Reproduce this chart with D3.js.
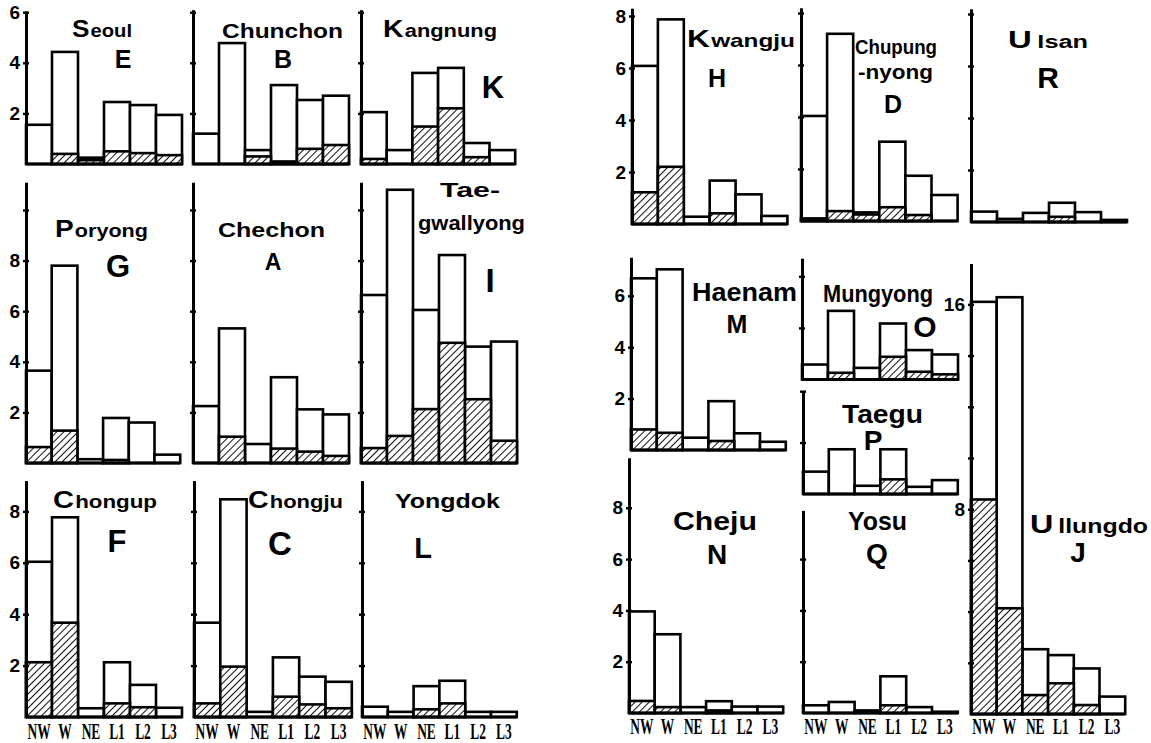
<!DOCTYPE html>
<html><head><meta charset="utf-8">
<script src="https://cdn.jsdelivr.net/npm/d3@7"></script>
<style>body{margin:0;background:#fff} svg{display:block;background:#fff}</style>
</head><body>
<svg id="chart" width="1151" height="743"></svg>
<script>
// ---------- DATA ----------
const categories = ["NW", "W", "NE", "L1", "L2", "L3"];
const stationNames = [["Seoul"], ["Chunchon"], ["Kangnung"], ["Poryong"], ["Chechon"], ["Tae-", "gwallyong"],
  ["Chongup"], ["Chongju"], ["Yongdok"], ["Kwangju"], ["Chupung", "-nyong"], ["Ulsan"],
  ["Haenam"], ["Mungyong"], ["Taegu"], ["Cheju"], ["Yosu"], ["Ullungdo"]];
const stationCodes = ["E", "B", "K", "G", "A", "I", "F", "C", "L", "H", "D", "R", "M", "O", "P", "N", "Q", "J"];
// total frequency (white bar) per category
const totals = [
  [1.55, 4.43, 0.25, 2.45, 2.33, 1.94],   // Seoul
  [1.2, 4.78, 0.55, 3.12, 2.53, 2.7],     // Chunchon
  [2.05, 0.55, 3.6, 3.8, 0.83, 0.55],     // Kangnung
  [3.65, 7.8, 0.15, 1.78, 1.6, 0.33],     // Poryong
  [2.25, 5.32, 0.75, 3.39, 2.12, 1.92],   // Chechon
  [6.64, 10.8, 6.05, 8.22, 4.6, 4.8],     // Taegwallyong
  [6.04, 7.77, 0.34, 2.13, 1.25, 0.36],   // Chongup
  [3.67, 8.47, 0.2, 2.32, 1.57, 1.37],    // Chongju
  [0.4, 0.2, 1.2, 1.41, 0.2, 0.2],        // Yongdok
  [6.08, 7.87, 0.28, 1.67, 1.14, 0.31],   // Kwangju
  [4.04, 7.2, 0.33, 3.05, 1.74, 1.0],     // Chupungnyong
  [0.4, 0.12, 0.35, 0.74, 0.38, 0.08],    // Ulsan
  [6.68, 7.03, 0.48, 1.9, 0.65, 0.32],    // Haenam
  [0.58, 2.66, 0.45, 2.17, 1.14, 0.97],   // Mungyong
  [0.87, 1.74, 0.32, 1.74, 0.28, 0.54],   // Taegu
  [3.96, 3.07, 0.23, 0.46, 0.25, 0.25],   // Cheju
  [0.3, 0.43, 0.1, 1.43, 0.23, 0.05],     // Yosu
  [16.1, 16.28, 2.53, 2.3, 1.78, 0.68]    // Ullungdo
];
// hatched part per category
const hatched = [
  [0, 0.4, 0.15, 0.5, 0.43, 0.35],
  [0, 0, 0.3, 0.1, 0.6, 0.75],
  [0.2, 0, 1.48, 2.2, 0.27, 0],
  [0.63, 1.28, 0, 0.12, 0, 0],
  [0, 1.04, 0, 0.57, 0.45, 0.28],
  [0.59, 1.07, 2.13, 4.75, 2.52, 0.88],
  [2.13, 3.67, 0, 0.53, 0.38, 0],
  [0.53, 1.96, 0, 0.79, 0.49, 0.34],
  [0, 0, 0.3, 0.53, 0, 0],
  [1.22, 2.2, 0, 0.41, 0, 0],
  [0.1, 0.38, 0.25, 0.53, 0.23, 0],
  [0, 0, 0, 0.2, 0, 0],
  [0.8, 0.67, 0, 0.35, 0, 0],
  [0, 0.26, 0, 0.88, 0.3, 0.2],
  [0, 0, 0, 0.57, 0, 0],
  [0.47, 0.23, 0, 0.1, 0, 0],
  [0, 0, 0, 0.3, 0, 0],
  [8.38, 4.13, 0.74, 1.2, 0.35, 0]
];
const axisTicks = [
  [2, 4, 6], [2, 4, 6], [2, 4, 6],
  [2, 4, 6, 8, 10], [2, 4, 6, 8, 10], [2, 4, 6, 8, 10],
  [2, 4, 6, 8], [2, 4, 6, 8], [2, 4, 6, 8],
  [2, 4, 6, 8], [2, 4, 6, 8], [2, 4, 6, 8],
  [2, 4, 6], [2, 4], [2, 4],
  [2, 4, 6, 8], [2, 4, 6], [2, 4, 6, 8, 10, 12, 14, 16]
];
const tickLabels = [
  ["2", "4", "6"], [], [],
  ["2", "4", "6", "8"], [], [],
  ["2", "4", "6", "8"], [], [],
  ["2", "4", "6", "8"], [], [],
  ["2", "4", "6"], [], [],
  ["2", "4", "6", "8"], [], ["8", "16"]
];

// ---------- LAYOUT (positions only) ----------
const layout = [
  {ax: 26, base: 164, ppu: 25.3, bw: 26, ymax: 6.05},
  {ax: 193, base: 164, ppu: 25.3, bw: 26, ymax: 6.1},
  {ax: 361, base: 164, ppu: 25.3, bw: 25.7, ymax: 6.1},
  {ax: 26, base: 463, ppu: 25.3, bw: 25.7, ymax: 11.1},
  {ax: 193, base: 463, ppu: 25.3, bw: 26, ymax: 11.1},
  {ax: 361, base: 463, ppu: 25.3, bw: 26, ymax: 11.1},
  {ax: 26, base: 717, ppu: 25.7, bw: 26, ymax: 9.2, xl: 739},
  {ax: 194, base: 717, ppu: 25.7, bw: 26.3, ymax: 9.2, xl: 739},
  {ax: 362, base: 717, ppu: 25.7, bw: 25.8, ymax: 9.2, xl: 739},
  {ax: 632, base: 224, ppu: 26, bw: 25.9, ymax: 8.3},
  {ax: 801, base: 221, ppu: 26, bw: 26.1, ymax: 8.2},
  {ax: 971, base: 222, ppu: 26, bw: 26, ymax: 8.2},
  {ax: 631, base: 450, ppu: 25.7, bw: 25.8, ymax: 7.5},
  {ax: 802, base: 379.5, ppu: 25.8, bw: 26, ymax: 4.7},
  {ax: 803, base: 494, ppu: 25.7, bw: 25.8, ymax: 4.0},
  {ax: 629, base: 713, ppu: 25.65, bw: 25.7, ymax: 9.95, xl: 734},
  {ax: 803, base: 713, ppu: 25.65, bw: 25.8, ymax: 7.9, xl: 734},
  {ax: 971, base: 714, ppu: 25.6, bw: 25.7, ymax: 17.6, xl: 734}
];
// name lines: [x, baseline, size, width, bigFirst]
const nameLayout = [
  [[72, 37, 19, 60, 1]],
  [[222, 38, 21, 121, 0]],
  [[383, 37, 18, 114, 1]],
  [[55, 237, 19, 93, 1]],
  [[218, 237, 21, 107, 0]],
  [[440, 197, 20, 60, 0], [418, 230, 20, 107, 0]],
  [[53, 508, 19, 104, 1]],
  [[248, 508, 19, 95, 1]],
  [[395, 508, 21, 105, 0]],
  [[687, 47, 19, 108, 1]],
  [[855, 54, 20, 82, 0], [858, 79, 20, 75, 0]],
  [[1008, 48, 18, 80, 1]],
  [[692, 301, 25, 105, 0]],
  [[823, 302, 24, 110, 0]],
  [[842, 423, 25, 81, 0]],
  [[673, 530, 25, 84, 0]],
  [[848, 530, 25, 59, 0]],
  [[1030, 533, 20, 118, 1]]
];
// code letter: [centre x, baseline, size]
const codeLayout = [
  [123, 68, 25], [283, 68, 25], [493, 98, 31], [118, 277, 31], [273, 270, 23], [490, 292, 33],
  [117, 552, 31], [280, 555, 33], [423, 558, 29], [717, 87, 25], [893, 113, 25], [1048, 88, 30],
  [737, 333, 25], [925, 337, 30], [873, 450, 28], [717, 564, 28], [877, 563, 28], [1078, 562, 28]
];

// ---------- DRAW ----------
const svg = d3.select("#chart");
svg.append("rect").attr("width", 1151).attr("height", 743).attr("fill", "#fff");
const defs = svg.append("defs");
const pat = defs.append("pattern").attr("id", "hatch").attr("patternUnits", "userSpaceOnUse")
  .attr("width", 5).attr("height", 5).attr("patternTransform", "rotate(45)");
pat.append("rect").attr("width", 5).attr("height", 5).attr("fill", "#fff");
pat.append("line").attr("x1", 0).attr("y1", 0).attr("x2", 0).attr("y2", 5)
  .attr("stroke", "#000").attr("stroke-width", 1.9);

const SANS = "'Liberation Sans', Arial, Helvetica, sans-serif";
const SERIF = "'Liberation Serif', 'Times New Roman', serif";

layout.forEach((L, i) => {
  const g = svg.append("g");
  const top = L.base - L.ymax * L.ppu;
  const y = d3.scaleLinear().domain([0, L.ymax]).range([L.base, top]);
  const x = d3.scaleBand().domain(categories).range([L.ax, L.ax + 6 * L.bw]).padding(0);

  // totals
  g.selectAll("rect.tot").data(categories).join("rect")
    .attr("x", c => x(c)).attr("width", x.bandwidth())
    .attr("y", (c, k) => y(totals[i][k]))
    .attr("height", (c, k) => L.base - y(totals[i][k]))
    .attr("fill", "#fff").attr("stroke", "#000").attr("stroke-width", 2.6);
  // hatched
  g.selectAll("rect.hat").data(categories.filter((c, k) => hatched[i][k] > 0)).join("rect")
    .attr("x", c => x(c)).attr("width", x.bandwidth())
    .attr("y", c => y(hatched[i][categories.indexOf(c)]))
    .attr("height", c => L.base - y(hatched[i][categories.indexOf(c)]))
    .attr("fill", "url(#hatch)").attr("stroke", "#000").attr("stroke-width", 2.6);

  // baseline
  g.append("line").attr("x1", L.ax).attr("x2", L.ax + 6 * L.bw)
    .attr("y1", L.base).attr("y2", L.base).attr("stroke", "#000").attr("stroke-width", 3);

  // y axis
  const labs = tickLabels[i];
  const ticks = axisTicks[i];
  const ax = d3.axisLeft(y).tickValues(ticks).tickSizeOuter(0).tickSizeInner(3).tickPadding(3)
    .tickFormat(v => labs.includes(String(v)) ? String(v) : "");
  const ag = g.append("g").attr("transform", `translate(${L.ax},0)`).call(ax);
  ag.attr("font-size", 19).attr("font-family", SANS);
  ag.select(".domain").attr("stroke", "#000").attr("stroke-width", 3);
  ag.selectAll(".tick line").attr("x1", -3).attr("x2", 3).attr("stroke-width", 2.4);
  ag.selectAll(".tick text").attr("font-family", SANS).attr("font-weight", "bold")
    .attr("font-size", 19).attr("fill", "#000");

  // category labels
  if (L.xl) {
    g.selectAll("text.cat").data(categories).join("text")
      .attr("transform", c => `translate(${x(c) + x.bandwidth() / 2},${L.xl}) scale(0.56,1)`)
      .attr("text-anchor", "middle").attr("font-family", SERIF).attr("font-weight", "bold")
      .attr("font-size", 24).attr("fill", "#000").text(c => c);
  }

  // station name
  stationNames[i].forEach((line, li) => {
    const [nx, ny, ns, nw, big] = nameLayout[i][li];
    const t = svg.append("text").attr("x", nx).attr("y", ny)
      .attr("font-family", SANS).attr("font-weight", "bold").attr("font-size", ns)
      .attr("fill", "#000").attr("textLength", nw).attr("lengthAdjust", "spacingAndGlyphs");
    if (big) {
      t.append("tspan").attr("font-size", ns * 1.3).text(line[0]);
      t.append("tspan").attr("dx", line[0] === "U" ? 4 : 1).text(line.slice(1));
    } else {
      t.text(line);
    }
  });
  // code letter
  const [cx, cy, cs] = codeLayout[i];
  svg.append("text").attr("x", cx).attr("y", cy).attr("text-anchor", "middle")
    .attr("font-family", SANS).attr("font-weight", "bold").attr("font-size", cs)
    .attr("fill", "#000").text(stationCodes[i]);
});
</script>
</body></html>
